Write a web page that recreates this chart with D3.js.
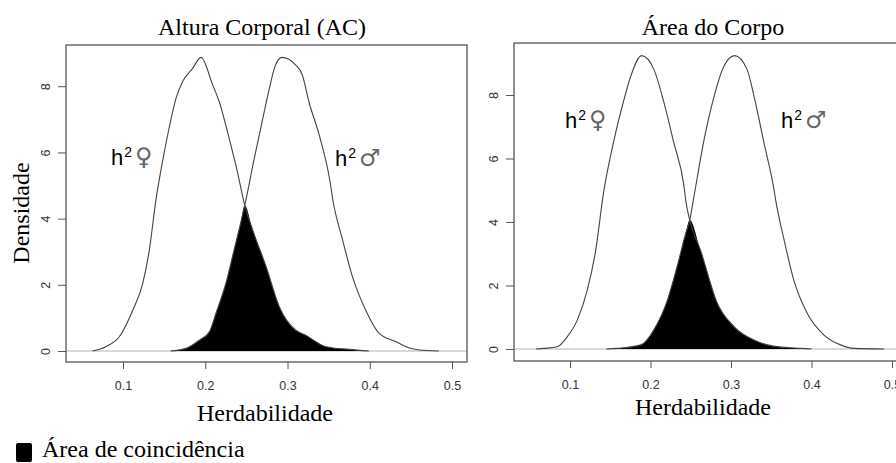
<!DOCTYPE html>
<html>
<head>
<meta charset="utf-8">
<script src="https://cdn.jsdelivr.net/npm/d3@7"></script>
<style>
  body { margin: 0; background: #fff; }
  svg { display: block; }
</style>
</head>
<body>
<svg id="chart" width="896" height="463"></svg>
<script>
// densities: [heritability, density]
var femaleAC = [[0.063,0],[0.079,0.13],[0.0955,0.43],[0.112,1.24],[0.124,2.04],[0.132,3.05],[0.140,4.56],
  [0.148,5.72],[0.156,6.73],[0.1644,7.63],[0.1725,8.14],[0.1847,8.54],[0.1948,8.87],[0.209,8.04],[0.217,7.53],
  [0.229,6.43],[0.239,5.42],[0.248,4.40],[0.2576,3.66],[0.274,2.55],[0.290,1.34],[0.310,0.63],[0.322,0.48],
  [0.3345,0.28],[0.3467,0.13],[0.375,0.05],[0.399,0]];
var maleAC = [[0.158,0],[0.1766,0.08],[0.193,0.33],[0.205,0.58],[0.213,1.14],[0.225,2.04],[0.235,3.05],
  [0.243,3.86],[0.248,4.40],[0.2596,5.82],[0.270,7.03],[0.278,7.94],[0.284,8.54],[0.293,8.87],[0.310,8.64],
  [0.318,8.34],[0.326,7.53],[0.3385,6.53],[0.351,5.22],[0.3555,4.51],[0.367,3.35],[0.379,2.24],[0.395,1.24],
  [0.4115,0.53],[0.432,0.28],[0.444,0.13],[0.460,0.03],[0.484,0]];
var femaleArea = [[0.058,0],[0.068,0.02],[0.084,0.07],[0.0967,0.39],[0.109,0.91],[0.1215,1.86],[0.132,3.12],
  [0.1415,4.9],[0.1547,6.59],[0.167,7.85],[0.1754,8.59],[0.189,9.24],[0.2043,8.80],[0.2168,7.75],[0.229,6.49],
  [0.2416,5.12],[0.2437,4.69],[0.2487,4.06],[0.262,3.12],[0.283,1.44],[0.304,0.70],[0.3286,0.28],[0.353,0.09],
  [0.3866,0.02],[0.40,0]];
var maleArea = [[0.145,0],[0.159,0.02],[0.188,0.13],[0.204,0.60],[0.221,1.54],[0.233,2.59],[0.2437,3.64],
  [0.2487,4.06],[0.2532,4.69],[0.2665,6.59],[0.279,7.96],[0.291,8.90],[0.3046,9.24],[0.320,8.80],[0.3286,7.96],
  [0.341,6.49],[0.3534,5.02],[0.3555,4.69],[0.366,3.43],[0.378,2.17],[0.3948,1.12],[0.4155,0.44],[0.436,0.13],
  [0.453,0.02],[0.49,0]];
// where the two curves cross
var crossAC = 0.248, crossArea = 0.2487;

var xTicks = [0.1, 0.2, 0.3, 0.4, 0.5];
var yTicks = [0, 2, 4, 6, 8];
var titles = ["Altura Corporal (AC)", "Área do Corpo"];
var xTitle = "Herdabilidade", yTitle = "Densidade";
var legendText = "Área de coincidência";

var svg = d3.select("#chart");
svg.append("rect").attr("width", 896).attr("height", 463).attr("fill", "#fff");

var serif = "'Liberation Serif', 'Times New Roman', serif";
var sans = "'Liberation Sans', Arial, sans-serif";

function drawPanel(p) {
  var x = d3.scaleLinear().domain(p.xDom).range([p.left, p.right]);
  var y = d3.scaleLinear().domain(p.yDom).range([p.bottom, p.top]);
  var g = svg.append("g");

  // grey zero line
  g.append("line")
    .attr("x1", p.left).attr("x2", p.right)
    .attr("y1", y(0)).attr("y2", y(0))
    .attr("stroke", "#d9d9d9").attr("stroke-width", 2);

  // overlap: male up to crossing, female after it
  var overlap = p.male.filter(function(d) { return d[0] <= p.cross; })
    .concat(p.female.filter(function(d) { return d[0] > p.cross; }));
  g.append("path").datum(overlap)
    .attr("fill", "#000")
    .attr("d", d3.area().curve(d3.curveMonotoneX)
      .x(function(d) { return x(d[0]); }).y0(y(0)).y1(function(d) { return y(d[1]); }));

  var line = d3.line().curve(d3.curveMonotoneX)
    .x(function(d) { return x(d[0]); }).y(function(d) { return y(d[1]); });
  [p.female, p.male].forEach(function(s) {
    g.append("path").datum(s)
      .attr("fill", "none").attr("stroke", "#444").attr("stroke-width", 1.1)
      .attr("d", line);
  });

  // box
  g.append("rect")
    .attr("x", p.left).attr("y", p.top)
    .attr("width", p.right - p.left).attr("height", p.bottom - p.top)
    .attr("fill", "none").attr("stroke", "#555").attr("stroke-width", 1.3);

  var xa = g.append("g").attr("transform", "translate(0," + p.bottom + ")")
    .call(d3.axisBottom(x).tickValues(xTicks).tickSize(7).tickPadding(12).tickFormat(d3.format(".1f")));
  xa.select(".domain").remove();
  xa.selectAll("line").attr("stroke", "#555");
  xa.selectAll("text").attr("font-family", sans).attr("font-size", 12.5).attr("fill", "#333");

  var ya = g.append("g").attr("transform", "translate(" + p.left + ",0)")
    .call(d3.axisLeft(y).tickValues(yTicks).tickSize(8));
  ya.select(".domain").remove();
  ya.selectAll("line").attr("stroke", "#555");
  ya.selectAll("text")
    .attr("font-family", sans).attr("font-size", 12.5).attr("fill", "#333")
    .attr("transform", "rotate(-90)")
    .attr("x", 0).attr("y", -16).attr("dy", 0)
    .attr("text-anchor", "middle");

  g.append("text").text(p.title)
    .attr("x", p.titleX).attr("y", 35)
    .attr("text-anchor", "middle").attr("font-family", serif).attr("font-size", 24).attr("fill", "#000");

  g.append("text").text(xTitle)
    .attr("x", p.xTitleX).attr("y", p.xTitleY)
    .attr("text-anchor", "middle").attr("font-family", serif).attr("font-size", 24).attr("fill", "#000");

  p.labels.forEach(function(l) {
    var t = g.append("text").attr("x", l.x).attr("y", l.y)
      .attr("font-family", sans).attr("font-size", 22).attr("fill", "#000");
    t.append("tspan").text("h");
    t.append("tspan").text("2").attr("font-size", 14).attr("dy", -8).attr("dx", 1);
    t.append("tspan").text(l.sym).attr("font-family", "'DejaVu Sans', sans-serif")
      .attr("font-size", 24).attr("dy", 8).attr("dx", 3).attr("fill", "#666");
  });
}

drawPanel({
  title: titles[0], female: femaleAC, male: maleAC, cross: crossAC,
  left: 66, right: 467, top: 45, bottom: 362,
  xDom: [0.0307, 0.5182], yDom: [-0.332, 9.245],
  titleX: 262, xTitleX: 265, xTitleY: 421,
  labels: [{x: 111, y: 165, sym: "♀"}, {x: 335, y: 166, sym: "♂"}]
});
drawPanel({
  title: titles[1], female: femaleArea, male: maleArea, cross: crossArea,
  left: 514, right: 906, top: 43, bottom: 361,
  xDom: [0.0304, 0.5174], yDom: [-0.378, 9.638],
  titleX: 713, xTitleX: 703, xTitleY: 415,
  labels: [{x: 565, y: 128, sym: "♀"}, {x: 781, y: 128, sym: "♂"}]
});

svg.append("text").text(yTitle)
  .attr("transform", "translate(29,213) rotate(-90)")
  .attr("text-anchor", "middle").attr("font-family", serif).attr("font-size", 24).attr("fill", "#000");

// legend
svg.append("rect").attr("x", 16).attr("y", 443).attr("width", 16).attr("height", 19).attr("rx", 2).attr("fill", "#000");
svg.append("text").text(legendText)
  .attr("x", 42).attr("y", 457)
  .attr("font-family", serif).attr("font-size", 24).attr("fill", "#000");
</script>
</body>
</html>
